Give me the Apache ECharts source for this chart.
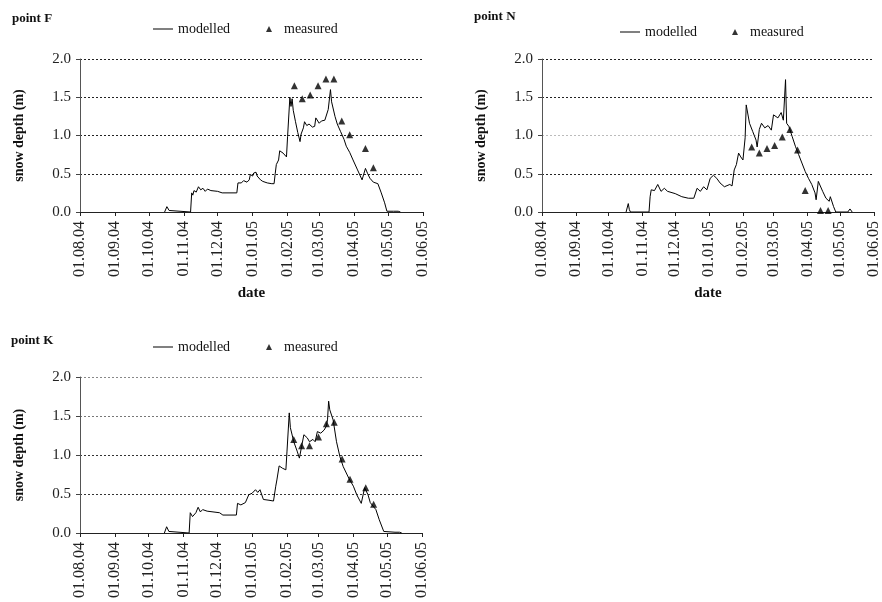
<!DOCTYPE html>
<html>
<head>
<meta charset="utf-8">
<script src="https://cdn.jsdelivr.net/npm/echarts/dist/echarts.min.js"></script>
<style>
html,body{margin:0;padding:0;background:#fff;}
#chart{width:882px;height:602px;}
</style>
</head>
<body>
<div id="chart"></div>
<script>
// ---------- data ----------
const monthTicks = ['2004-08-01','2004-09-01','2004-10-01','2004-11-01','2004-12-01','2005-01-01','2005-02-01','2005-03-01','2005-04-01','2005-05-01','2005-06-01'];
const yTicks = [0, 0.5, 1.0, 1.5, 2.0];

const modelledF = [['2004-10-15',0],['2004-10-17',0.07],['2004-10-19',0.02],['2004-10-20',0],['2004-11-07',0],['2004-11-08',0.25],['2004-11-09',0.22],['2004-11-10',0.28],['2004-11-12',0.26],['2004-11-14',0.33],['2004-11-16',0.29],['2004-11-18',0.31],['2004-11-20',0.27],['2004-11-22',0.30],['2004-11-25',0.28],['2004-12-01',0.27],['2004-12-05',0.25],['2004-12-18',0.25],['2004-12-19',0.38],['2004-12-22',0.38],['2004-12-24',0.41],['2004-12-27',0.39],['2004-12-29',0.42],['2004-12-30',0.49],['2005-01-01',0.47],['2005-01-02',0.51],['2005-01-04',0.52],['2005-01-05',0.47],['2005-01-08',0.42],['2005-01-10',0.40],['2005-01-14',0.38],['2005-01-18',0.37],['2005-01-20',0.37],['2005-01-21',0.50],['2005-01-22',0.62],['2005-01-24',0.68],['2005-01-25',0.80],['2005-01-28',0.77],['2005-01-31',0.72],['2005-02-01',0.99],['2005-02-03',1.50],['2005-02-04',1.38],['2005-02-05',1.48],['2005-02-06',1.33],['2005-02-08',1.18],['2005-02-10',1.04],['2005-02-12',0.92],['2005-02-13',1.02],['2005-02-15',1.10],['2005-02-16',1.18],['2005-02-18',1.13],['2005-02-20',1.15],['2005-02-23',1.11],['2005-02-25',1.12],['2005-02-26',1.23],['2005-03-01',1.16],['2005-03-03',1.19],['2005-03-06',1.20],['2005-03-09',1.34],['2005-03-11',1.60],['2005-03-12',1.44],['2005-03-15',1.25],['2005-03-17',1.15],['2005-03-20',1.05],['2005-03-23',0.95],['2005-03-25',0.86],['2005-03-28',0.78],['2005-03-31',0.68],['2005-04-04',0.55],['2005-04-08',0.42],['2005-04-11',0.57],['2005-04-13',0.50],['2005-04-15',0.44],['2005-04-18',0.39],['2005-04-22',0.37],['2005-04-25',0.25],['2005-04-28',0.12],['2005-04-30',0.01],['2005-05-01',0],['2005-05-06',0.01],['2005-05-10',0.01],['2005-05-12',0]];
const measuredF = [['2005-02-07',1.65],['2005-02-14',1.48],['2005-02-21',1.53],['2005-02-28',1.65],['2005-03-07',1.74],['2005-03-14',1.74],['2005-03-21',1.19],['2005-03-28',1.01],['2005-04-11',0.83],['2005-04-18',0.58]];

const modelledN = [['2004-10-17',0],['2004-10-19',0.11],['2004-10-20',0.03],['2004-10-21',0],['2004-11-07',0],['2004-11-08',0.20],['2004-11-09',0.29],['2004-11-12',0.28],['2004-11-15',0.36],['2004-11-18',0.27],['2004-11-21',0.31],['2004-11-24',0.27],['2004-12-01',0.24],['2004-12-07',0.20],['2004-12-13',0.18],['2004-12-18',0.18],['2004-12-21',0.31],['2004-12-24',0.27],['2004-12-27',0.33],['2004-12-30',0.29],['2005-01-02',0.44],['2005-01-05',0.48],['2005-01-08',0.44],['2005-01-11',0.38],['2005-01-15',0.33],['2005-01-20',0.36],['2005-01-22',0.34],['2005-01-24',0.55],['2005-01-26',0.62],['2005-01-28',0.77],['2005-01-30',0.72],['2005-02-01',0.68],['2005-02-03',0.97],['2005-02-04',1.40],['2005-02-07',1.16],['2005-02-10',1.05],['2005-02-13',0.94],['2005-02-14',0.85],['2005-02-16',1.08],['2005-02-18',1.16],['2005-02-21',1.10],['2005-02-24',1.13],['2005-02-27',1.07],['2005-03-01',1.27],['2005-03-05',1.23],['2005-03-08',1.30],['2005-03-10',1.20],['2005-03-12',1.73],['2005-03-13',1.16],['2005-03-15',1.12],['2005-03-18',0.99],['2005-03-21',0.86],['2005-03-24',0.75],['2005-03-27',0.64],['2005-03-30',0.53],['2005-04-02',0.44],['2005-04-05',0.36],['2005-04-08',0.25],['2005-04-09',0.16],['2005-04-11',0.40],['2005-04-15',0.27],['2005-04-18',0.18],['2005-04-21',0.14],['2005-04-22',0.20],['2005-04-25',0.07],['2005-04-27',0],['2005-05-08',0],['2005-05-10',0.04],['2005-05-12',0]];
const measuredN = [['2005-02-09',0.85],['2005-02-16',0.77],['2005-02-23',0.83],['2005-03-02',0.87],['2005-03-09',0.98],['2005-03-16',1.08],['2005-03-23',0.81],['2005-03-30',0.28],['2005-04-13',0.02],['2005-04-20',0.02]];

const modelledK = [['2004-10-15',0],['2004-10-17',0.08],['2004-10-19',0.02],['2004-10-20',0],['2004-11-06',0],['2004-11-07',0.26],['2004-11-08',0.28],['2004-11-09',0.21],['2004-11-12',0.26],['2004-11-14',0.33],['2004-11-16',0.27],['2004-11-18',0.30],['2004-11-22',0.28],['2004-12-03',0.26],['2004-12-06',0.23],['2004-12-18',0.23],['2004-12-19',0.38],['2004-12-22',0.36],['2004-12-26',0.39],['2004-12-29',0.49],['2005-01-01',0.51],['2005-01-04',0.555],['2005-01-06',0.52],['2005-01-08',0.555],['2005-01-11',0.43],['2005-01-16',0.42],['2005-01-20',0.41],['2005-01-22',0.60],['2005-01-23',0.68],['2005-01-25',0.86],['2005-01-28',0.83],['2005-01-31',0.81],['2005-02-01',1.05],['2005-02-03',1.54],['2005-02-04',1.35],['2005-02-07',1.17],['2005-02-10',1.05],['2005-02-12',0.96],['2005-02-14',1.11],['2005-02-16',1.26],['2005-02-19',1.22],['2005-02-21',1.17],['2005-02-24',1.20],['2005-02-26',1.17],['2005-02-28',1.30],['2005-03-03',1.28],['2005-03-06',1.32],['2005-03-08',1.37],['2005-03-09',1.45],['2005-03-10',1.69],['2005-03-11',1.58],['2005-03-14',1.45],['2005-03-17',1.17],['2005-03-20',0.98],['2005-03-23',0.85],['2005-03-28',0.70],['2005-04-01',0.60],['2005-04-04',0.49],['2005-04-08',0.38],['2005-04-11',0.58],['2005-04-14',0.49],['2005-04-16',0.39],['2005-04-21',0.30],['2005-04-24',0.17],['2005-04-28',0.02],['2005-04-29',0],['2005-05-08',0.01],['2005-05-12',0.01],['2005-05-14',0]];
const measuredK = [['2005-02-07',1.20],['2005-02-14',1.12],['2005-02-21',1.12],['2005-03-01',1.23],['2005-03-08',1.40],['2005-03-15',1.42],['2005-03-22',0.95],['2005-03-29',0.69],['2005-04-12',0.58],['2005-04-19',0.37]];

const panelTitles = ['point F', 'point N', 'point K'];
const seriesNames = ['modelled', 'measured'];
const yName = 'snow depth (m)';
const xName = 'date';

// ---------- helpers ----------
function ts(s){ const p = s.split('-').map(Number); return Date.UTC(p[0], p[1]-1, p[2]); }
function conv(arr){ return arr.map(d => [ts(d[0]), d[1]]); }
function pad(n){ return (n < 10 ? '0' : '') + n; }
function fmt(v){ const d = new Date(v); return pad(d.getUTCDate()) + '.' + pad(d.getUTCMonth()+1) + '.' + String(d.getUTCFullYear()).slice(2); }

const tickTs = monthTicks.map(ts);
const serif = 'Liberation Serif';
const ink = '#111';

const grids = [
  {left: 80, top: 59, width: 343, height: 153},
  {left: 542, top: 59, width: 342, height: 153},
  {left: 80, top: 377, width: 342, height: 156}
];
const gridLineColors = [
  ['#222','#222','#222','#222','#222'],
  ['#222','#222','#bbb','#222','#222'],
  ['#222','#333','#333','#777','#888']
];

function xAxis(i, withName){
  return {
    type: 'value', gridIndex: i, min: tickTs[0], max: tickTs[tickTs.length-1],
    name: withName ? xName : '', nameLocation: 'middle', nameGap: 74,
    nameTextStyle: {fontFamily: serif, fontWeight: 'bold', fontSize: 15, color: ink},
    axisLine: {show: true, lineStyle: {color: '#222', width: 1}},
    axisTick: {show: true, customValues: tickTs, length: 4, lineStyle: {color: '#222'}},
    axisLabel: {customValues: tickTs, rotate: 90, margin: 9, formatter: fmt,
      fontFamily: serif, fontSize: 16, color: '#222'},
    splitLine: {show: false}
  };
}
function yAxis(i){
  return {
    type: 'value', gridIndex: i, min: 0, max: 2, interval: 0.5,
    name: yName, nameLocation: 'middle', nameRotate: 90, nameGap: 54,
    nameTextStyle: {fontFamily: serif, fontWeight: 'bold', fontSize: 14, color: ink},
    axisLine: {show: true, lineStyle: {color: '#555', width: 1}},
    axisTick: {show: true, length: 4, lineStyle: {color: '#444'}},
    axisLabel: {margin: 9, formatter: v => v.toFixed(1), fontFamily: serif, fontSize: 15, color: '#222'},
    splitLine: {show: true, lineStyle: {type: [2, 2], color: gridLineColors[i], width: 1}}
  };
}
function lineSeries(i, data){
  return {name: seriesNames[0], type: 'line', xAxisIndex: i, yAxisIndex: i, data: conv(data),
    symbol: 'none', lineStyle: {color: '#000', width: 1}, itemStyle: {color: '#000'}, z: 3};
}
function pointSeries(i, data){
  return {name: seriesNames[1], type: 'scatter', xAxisIndex: i, yAxisIndex: i, data: conv(data),
    symbol: 'triangle', symbolSize: 7, itemStyle: {color: '#000'}, z: 4};
}
const legendText = {fontFamily: serif, fontSize: 14, color: ink};
function lineLegend(left, top){
  return {left: left, top: top, itemWidth: 20, itemHeight: 1, selectedMode: false,
    data: [{name: seriesNames[0], icon: 'rect', itemStyle: {color: '#000'}}], textStyle: legendText};
}
function pointLegend(left, top){
  return {left: left, top: top, itemWidth: 6, itemHeight: 6, selectedMode: false,
    data: [{name: seriesNames[1], icon: 'triangle', itemStyle: {color: '#000'}}],
    textStyle: Object.assign({padding: [0, 0, 0, 7]}, legendText)};
}
function title(text, left, top){
  return {text: text, left: left, top: top, padding: 0,
    textStyle: {fontFamily: serif, fontWeight: 'bold', fontSize: 13, color: ink}};
}

const chart = echarts.init(document.getElementById('chart'), null, {renderer: 'canvas'});
chart.setOption({
  animation: false,
  backgroundColor: '#fff',
  title: [title(panelTitles[0], 12, 12), title(panelTitles[1], 474, 10), title(panelTitles[2], 11, 334)],
  legend: [
    lineLegend(148, 17), pointLegend(261, 17),
    lineLegend(615, 20), pointLegend(727, 20),
    lineLegend(148, 335), pointLegend(261, 335)
  ],
  grid: grids,
  xAxis: [xAxis(0, true), xAxis(1, true), xAxis(2, false)],
  yAxis: [yAxis(0), yAxis(1), yAxis(2)],
  series: [
    lineSeries(0, modelledF), pointSeries(0, measuredF),
    lineSeries(1, modelledN), pointSeries(1, measuredN),
    lineSeries(2, modelledK), pointSeries(2, measuredK)
  ]
});
</script>
</body>
</html>
